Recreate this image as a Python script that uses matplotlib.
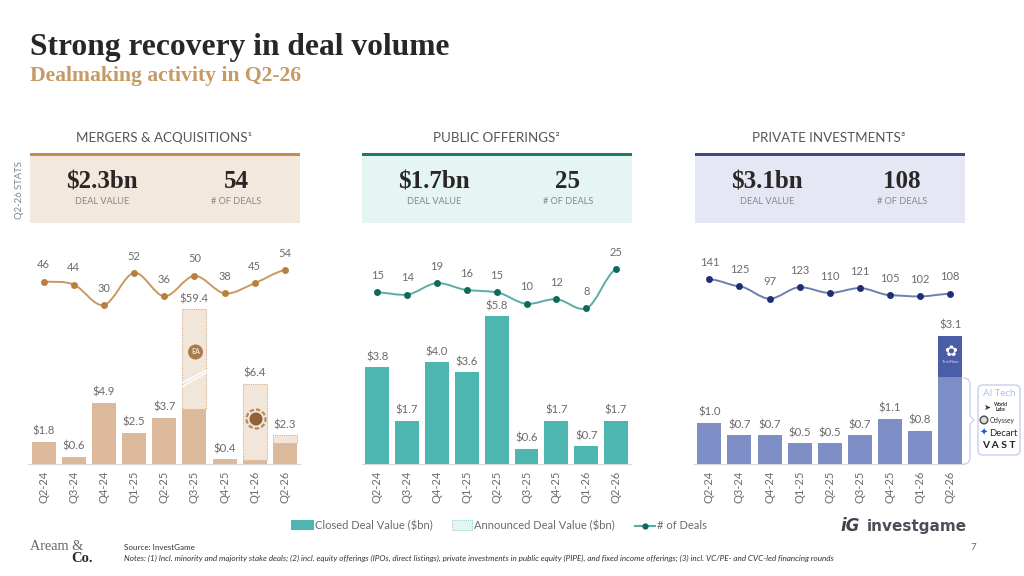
import numpy as np
import matplotlib
matplotlib.use("Agg")
import matplotlib.pyplot as plt
from matplotlib.patches import Rectangle, FancyBboxPatch, Circle, PathPatch
from matplotlib.path import Path

W, H = 1024, 576
SANS = ["Lato", "DejaVu Sans"]
SERIF = ["Liberation Serif", "DejaVu Serif"]
plt.rcParams["font.family"] = SANS

quarters = ["Q2-24", "Q3-24", "Q4-24", "Q1-25", "Q2-25", "Q3-25", "Q4-25", "Q1-26", "Q2-26"]

# M&A, $bn and deal counts
ma_closed = [1.8, 0.6, 4.9, 2.5, 3.7, 4.4, 0.4, 0.3, 1.7]
ma_announced = [0, 0, 0, 0, 0, 55.0, 0, 6.1, 0.6]
ma_totals = [1.8, 0.6, 4.9, 2.5, 3.7, 59.4, 0.4, 6.4, 2.3]
ma_deals = [46, 44, 30, 52, 36, 50, 38, 45, 54]

# public offerings
po_closed = [3.8, 1.7, 4.0, 3.6, 5.8, 0.6, 1.7, 0.7, 1.7]
po_deals = [15, 14, 19, 16, 15, 10, 12, 8, 25]

# private investments, last quarter split into the highlighted deal and the rest
pi_closed = [1.0, 0.7, 0.7, 0.5, 0.5, 0.7, 1.1, 0.8, 2.1]
pi_highlight = [0, 0, 0, 0, 0, 0, 0, 0, 1.0]
pi_totals = [1.0, 0.7, 0.7, 0.5, 0.5, 0.7, 1.1, 0.8, 3.1]
pi_deals = [141, 125, 97, 123, 110, 121, 105, 102, 108]

fig = plt.figure(figsize=(W / 100, H / 100), dpi=100, facecolor="white")

# overlay in pixel coordinates for headers, footer and callouts
bg = fig.add_axes([0, 0, 1, 1], zorder=0)
bg.set_xlim(0, W)
bg.set_ylim(H, 0)
bg.axis("off")
top = fig.add_axes([0, 0, 1, 1], zorder=5)
top.set_xlim(0, W)
top.set_ylim(H, 0)
top.axis("off")
top.patch.set_alpha(0)

GREY = "#6b6b6b"
DARK = "#2b2626"


def smooth_path(xs, ys, t):
    # Catmull-Rom style bezier through the points
    verts = [(xs[0], ys[0])]
    codes = [Path.MOVETO]
    n = len(xs)
    for i in range(n - 1):
        y0 = ys[max(i - 1, 0)]
        y3 = ys[min(i + 2, n - 1)]
        verts += [(xs[i] + 1 / 3, ys[i] + (ys[i + 1] - y0) * t),
                  (xs[i + 1] - 1 / 3, ys[i + 1] - (y3 - ys[i]) * t),
                  (xs[i + 1], ys[i + 1])]
        codes += [Path.CURVE4] * 3
    return Path(verts, codes)


def header(x0, x1, title, tx, value, vx, count, cx, band, strip):
    bg.add_patch(Rectangle((x0, 153), x1 - x0, 70, fc=band, ec="none"))
    bg.add_patch(Rectangle((x0, 152.5), x1 - x0, 3.5, fc=strip, ec="none"))
    bg.text(tx, 137.5, title, ha="center", va="center", fontsize=9.6, color="#555555")
    bg.text(vx, 182, value, ha="center", va="center", fontsize=18, family=SERIF,
            weight="bold", color=DARK)
    bg.text(cx, 182, count, ha="center", va="center", fontsize=18, family=SERIF,
            weight="bold", color=DARK)
    bg.text(vx, 201, "DEAL VALUE", ha="center", va="center", fontsize=6.6, color="#8a8785")
    bg.text(cx, 201, "# OF DEALS", ha="center", va="center", fontsize=6.6, color="#8a8785")


def panel(x0, width, scale_px, deals, dy_px, deal_ref, deal_ref_y, line_c, mark_c, t):
    # bar axes: baseline at y=464, 224 px tall
    ax = fig.add_axes([x0 / W, 1 - 464 / H, width / W, 224 / H], zorder=2)
    ax.patch.set_alpha(0)
    x = np.arange(len(quarters))
    ax.set_xlim(-0.5, 8.5)
    ax.set_ylim(0, 224 / scale_px)
    for s in ["top", "left", "right"]:
        ax.spines[s].set_visible(False)
    ax.spines["bottom"].set_color("#d8d8d8")
    ax.spines["bottom"].set_linewidth(0.8)
    ax.set_yticks([])
    ax.set_xticks(x)
    ax.set_xticklabels(quarters, rotation=90, fontsize=8, color=GREY)
    ax.tick_params(axis="x", length=0, pad=5)

    # deal count line on its own linear y axis
    lx = fig.add_axes([x0 / W, 1 - 464 / H, width / W, 224 / H], zorder=3)
    lx.patch.set_alpha(0)
    lx.axis("off")
    lx.set_xlim(-0.5, 8.5)
    lo = deal_ref - (464 - deal_ref_y) / dy_px
    lx.set_ylim(lo, lo + 224 / dy_px)
    lx.add_patch(PathPatch(smooth_path(x, deals, t), fc="none", ec=line_c, lw=1.4))
    lx.plot(x, deals, "o", ms=5, color=mark_c, mec="none")
    for i, d in enumerate(deals):
        lx.annotate(str(d), (i, d), xytext=(0, 8.2), textcoords="offset points",
                    ha="center", va="bottom", fontsize=8, color=GREY)
    return ax, x


def bar_labels(ax, x, vals):
    for i, v in zip(x, vals):
        ax.annotate(f"${v:.1f}", (i, v), xytext=(0, 3.6), textcoords="offset points",
                    ha="center", va="bottom", fontsize=8.2, color=GREY)


# page title
bg.text(30, 47, "Strong recovery in deal volume", fontsize=22.7, family=SERIF, weight="bold",
        color=DARK, va="center")
bg.text(30, 76, "Dealmaking activity in Q2-26", fontsize=15.6, family=SERIF, weight="bold",
        color="#c69a63", va="center")
bg.text(20, 190, "Q2-26 STATS", rotation=90, ha="center", va="center", fontsize=6.8, color="#808080")

header(30, 300, "MERGERS & ACQUISITIONS¹", 164, "$2.3bn", 102, "54", 236, "#f3e8de", "#c68c50")
header(362, 632, "PUBLIC OFFERINGS²", 496, "$1.7bn", 434, "25", 568, "#e5f5f4", "#1f7a6e")
header(695, 965, "PRIVATE INVESTMENTS³", 829, "$3.1bn", 767, "108", 902, "#e6e7f5", "#3d4a8a")

# M&A panel uses a compressed scale above 7.5 so the large quarter fits
BREAK = 7.5
SQUEEZE = 0.094


def fwd(v):
    v = np.asarray(v, dtype=float)
    return np.where(v <= BREAK, v, BREAK + (v - BREAK) * SQUEEZE)


def inv(v):
    v = np.asarray(v, dtype=float)
    return np.where(v <= BREAK, v, BREAK + (v - BREAK) / SQUEEZE)


ax, x = panel(28.5, 271.5, 12.5, ma_deals, 1.46, 54, 270, "#c9995f", "#b8803f", 0.17)
ax.set_yscale("function", functions=(fwd, inv))
ax.set_ylim(0, float(inv(224 / 12.5)))
ax.set_yticks([])
ax.minorticks_off()
ax.tick_params(axis="y", which="both", length=0, labelleft=False)
ax.bar(x, ma_closed, width=0.8, color="#dcb99b", ec="none", zorder=2)
for i in range(len(x)):
    if ma_announced[i] > 0:
        ax.bar(x[i], ma_announced[i], bottom=ma_closed[i], width=0.8, color="#f2e6db",
               ec="#d2ad8a", lw=0.8, ls=(0, (1, 1)), zorder=2)
bar_labels(ax, x, ma_totals)
# break marks on the tall bar
ax.plot([4.6, 5.4], [6.2, 7.3], color="white", lw=1, zorder=3)
ax.plot([4.6, 5.4], [6.5, 7.6], color="white", lw=1, zorder=3)

# acquired company marks
top.add_patch(Circle((195.5, 352), 7.5, fc="#a97a4c", ec="none"))
top.text(195.5, 352, "EA", ha="center", va="center", fontsize=5, color="#f2e6db", weight="bold")
top.add_patch(Circle((256, 419), 6.5, fc="#8f6238", ec="none"))
top.add_patch(Circle((256, 419), 9.5, fc="none", ec="#b98a5c", lw=1.6, ls=(0, (2, 1))))

ax, x = panel(362.3, 268.7, 25.5, po_deals, 2.3, 25, 269.3, "#58aea6", "#0f6a5e", 0.11)
ax.bar(x, po_closed, width=0.8, color="#4db6b0", ec="none")
bar_labels(ax, x, po_closed)

ax, x = panel(694.3, 270.9, 41.3, pi_deals, 0.44, 141, 279.3, "#6f7eb0", "#1f2f73", 0.05)
ax.bar(x, pi_closed, width=0.8, color="#7d8dc6", ec="none")
ax.bar(x, pi_highlight, bottom=pi_closed, width=0.8, color="#4a5ea8", ec="none")
bar_labels(ax, x, pi_totals)
top.text(950.5, 351, "✿", ha="center", va="center", fontsize=11, color="white", family="DejaVu Sans")
top.text(950.5, 362, "TechFlow", ha="center", va="center", fontsize=3, color="#d5daf0")

# AI Tech bracket and callout
EDGE = "#cdd3f0"
top.plot([964, 968, 970, 970, 974, 970, 970, 968, 964],
         [378, 379, 383, 416, 420, 424, 459, 463, 464], color=EDGE, lw=1)
top.add_patch(FancyBboxPatch((978, 385), 42, 70, boxstyle="round,pad=0,rounding_size=5",
                             fc="white", ec=EDGE, lw=1.1))
top.text(999, 393.5, "AI Tech", ha="center", va="center", fontsize=7, color="#b4bce8")
top.text(1001, 407, "World\nLabs", ha="center", va="center", fontsize=3.6, color="#333333",
         weight="bold", linespacing=0.9)
top.text(987, 407, "➤", ha="center", va="center", fontsize=6, color="#333333", family="DejaVu Sans")
top.add_patch(Circle((984, 420), 3.8, fc="#dddddd", ec="#555555", lw=1.1))
top.text(990, 420, "Odyssey", ha="left", va="center", fontsize=4.8, color="#333333")
top.text(984, 433, "✦", ha="center", va="center", fontsize=7, color="#1c56e0", family="DejaVu Sans")
top.text(989, 433, "Decart", ha="left", va="center", fontsize=6.8, color="#222222")
top.text(999, 445, "V A S T", ha="center", va="center", fontsize=7.4, color="#222222", weight="bold")

# legend
bg.add_patch(Rectangle((291, 520), 23, 10, fc="#4db6b0", ec="none"))
bg.text(315, 525.5, "Closed Deal Value ($bn)", va="center", fontsize=8, color=GREY)
bg.add_patch(Rectangle((452, 520), 20, 10, fc="#e5f5f4", ec="#8fcfca", lw=0.7, ls=(0, (1, 1))))
bg.text(474, 525.5, "Announced Deal Value ($bn)", va="center", fontsize=8, color=GREY)
bg.plot([635, 655], [525.5, 525.5], color="#58aea6", lw=1.5)
bg.plot([645], [525.5], "o", ms=4.5, color="#0f6a5e", mec="none")
bg.text(657, 525.5, "# of Deals", va="center", fontsize=8, color=GREY)

# footer
bg.text(840, 526, "iG", va="center", fontsize=12, family="DejaVu Sans", weight="bold",
        style="italic", color="#3d424b")
bg.text(867, 526, "investgame", va="center", fontsize=11, family="DejaVu Sans", weight="bold",
        color="#4a4f58")
bg.text(30, 546, "Aream &", va="center", fontsize=10.3, family=SERIF, color="#666666")
bg.text(93, 559, "Co.", va="center", ha="right", fontsize=10.5, family=SERIF, weight="bold", color=DARK)
bg.text(124, 548, "Source: InvestGame", va="center", fontsize=5.8, color="#333333")
bg.text(124, 558, "Notes: (1) Incl. minority and majority stake deals; (2) incl. equity offerings (IPOs, direct listings), "
        "private investments in public equity (PIPE), and fixed income offerings; (3) incl. VC/PE- and CVC-led financing rounds",
        va="center", fontsize=5.9, color="#333333", style="italic")
bg.text(973, 547, "7", va="center", ha="center", fontsize=7, color="#666666")

fig.savefig("out.png", dpi=100)
